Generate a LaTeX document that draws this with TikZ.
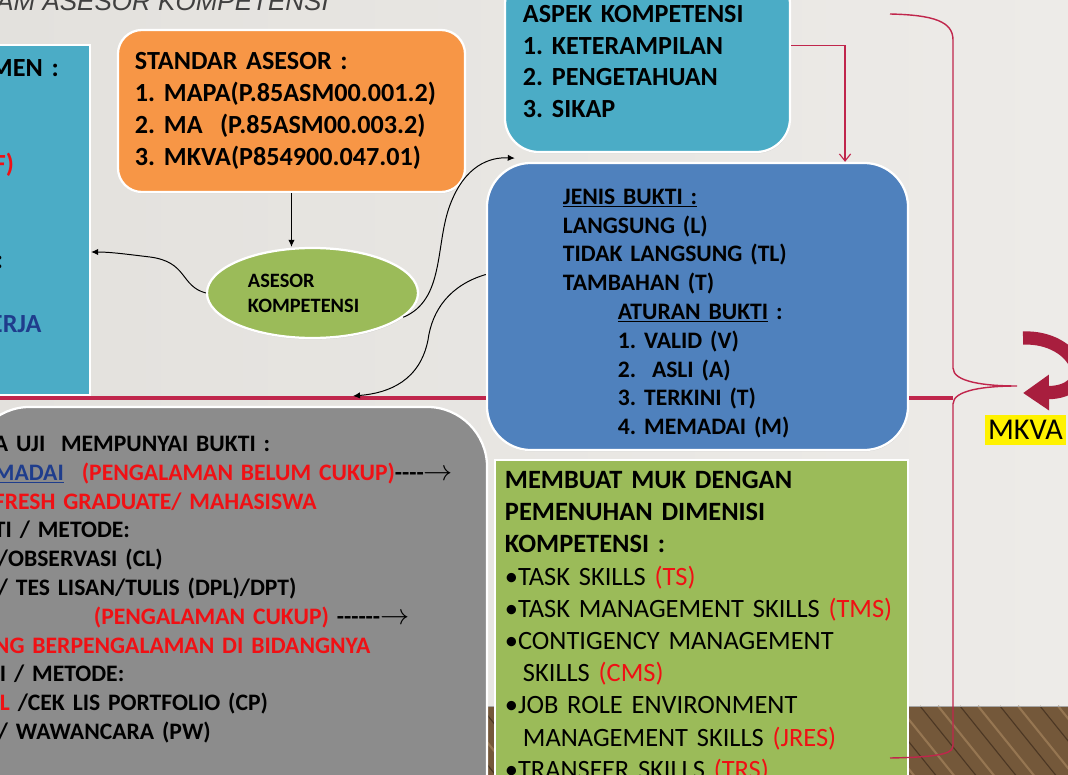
\documentclass[tikz,border=0pt]{standalone}
\usepackage{fontspec}
\setmainfont{Carlito}
\newfontfamily\titlefont{Liberation Sans}
\usetikzlibrary{shapes.geometric, arrows.meta, shadows}
\frenchspacing

\definecolor{wall}{RGB}{227,225,221}
\definecolor{wallhi}{RGB}{237,235,232}
\definecolor{floorwood}{RGB}{116,88,58}
\definecolor{plank}{RGB}{76,55,36}
\definecolor{planklight}{RGB}{150,118,82}
\definecolor{titlegray}{RGB}{64,64,64}
\definecolor{tealbox}{RGB}{75,172,198}
\definecolor{orangebox}{RGB}{247,150,70}
\definecolor{bluebox}{RGB}{79,129,189}
\definecolor{greenbox}{RGB}{155,187,89}
\definecolor{graybox}{RGB}{140,140,140}
\definecolor{crimson}{RGB}{192,38,76}
\definecolor{darkcrimson}{RGB}{168,30,62}
\definecolor{navytext}{RGB}{31,61,140}
\definecolor{redtext}{RGB}{240,16,20}

\newcommand{\longarrow}[1]{#1{\fontsize{22}{22}\selectfont$\rightarrow$}}

\begin{document}
\begin{tikzpicture}[x=0.025cm, y=-0.025cm, >={Latex[length=5pt,width=4.5pt]},
    panel/.style={draw=white, line width=1.6pt,
      drop shadow={opacity=0.2, shadow xshift=0.4pt, shadow yshift=-1pt}},
    bigfont/.style={font=\fontsize{18.6}{22.7}\selectfont\bfseries, align=left},
    midfont/.style={font=\fontsize{16.8}{20.5}\selectfont\bfseries, align=left},
    link/.style={->, line width=0.7pt},
    redlink/.style={crimson, line width=0.8pt, -{Straight Barb[length=5pt,width=8pt]}},
    redline/.style={crimson, line width=2.6pt},
    bracket/.style={crimson, line width=1pt},
    turn/.style={darkcrimson, line width=0.33cm, -{Triangle[length=0.65cm,width=0.85cm]}}]

\useasboundingbox (0,0) rectangle (1068,775);
\clip (0,0) rectangle (1068,775);

% wall and wooden floor
\fill[left color=wall, right color=wallhi] (0,0) rectangle (1068,706);
\fill[floorwood] (0,706) rectangle (1068,775);
\foreach \k in {0,...,28}{
  \draw[plank, line width=0.8pt] ({\k*40-40},706) -- ++(58,72);
  \draw[planklight, line width=1.5pt] ({\k*40-22},706) -- ++(58,72);
}
\draw[gray!70, line width=0.6pt] (0,706) -- (1068,706);

% title, cut by the top edge
\node[anchor=base west, inner sep=0pt, text=titlegray,
  font=\titlefont\itshape\fontsize{18.5}{22}\selectfont] (judul) at (-4,11) {AM ASESOR KOMPETENSI};

\node[panel, fill=tealbox, bigfont, minimum width=3cm, minimum height=8.75cm,
  text width=2cm] (elemen) at (30,220)
  {MEN :\\ \mbox{}\\ \mbox{}\\ \hspace*{0.1cm}{\color{redtext}F)}\\ \mbox{}\\ \mbox{}\\
   \hspace*{0.15cm}:\\ \mbox{}\\ {\color{navytext}ERJA}\\ \rule[-0.4cm]{0pt}{0pt}};

\node[panel, fill=orangebox, bigfont, rounded corners=0.6cm, minimum width=8.675cm,
  minimum height=4.05cm, text width=7.825cm] (standar) at (291.5,111)
  {STANDAR ASESOR :\\ 1. MAPA(P.85ASM00.001.2)\\ 2. MA\ \ (P.85ASM00.003.2)\\
   3. MKVA(P854900.047.01)};

\node[panel, fill=tealbox, bigfont, rounded corners=0.85cm, minimum width=7.125cm,
  minimum height=4.525cm, text width=6.225cm] (aspek) at (647.5,61.5)
  {ASPEK KOMPETENSI\\ 1. KETERAMPILAN\\ 2. PENGETAHUAN\\ 3. SIKAP};

\node[panel, ellipse, fill=greenbox, font=\fontsize{14.5}{17.7}\selectfont\bfseries,
  align=left, text width=3.225cm, inner sep=0pt, minimum width=5.275cm,
  minimum height=2.25cm] (asesor) at (312.5,293) {ASESOR\\ KOMPETENSI};

\node[panel, fill=bluebox, midfont, rounded corners=1.1cm, minimum width=10.525cm,
  minimum height=7.175cm, text width=6.725cm] (jenis) at (697.5,306.5)
  {\rule{0pt}{0.74cm}\underline{JENIS BUKTI :}\\ LANGSUNG (L)\\ TIDAK LANGSUNG (TL)\\ TAMBAHAN (T)\\
   \hspace*{1.375cm}\underline{ATURAN BUKTI} :\\
   \hspace*{1.375cm}1. VALID (V)\\
   \hspace*{1.375cm}2.\ \ ASLI (A)\\
   \hspace*{1.375cm}3. TERKINI (T)\\
   \hspace*{1.375cm}4. MEMADAI (M)};

\node[panel, fill=graybox, midfont, rounded corners=1.5cm, minimum width=12.925cm,
  minimum height=10.7cm, text width=11.725cm] (bukti) at (228.5,621)
  {A UJI\ \ MEMPUNYAI BUKTI :\\
   {\color{navytext}\underline{MADAI}}\hspace*{0.45cm}{\color{redtext}(PENGALAMAN BELUM CUKUP)}\longarrow{{-}{-}{-}{-}}\\
   {\color{redtext}FRESH GRADUATE/ MAHASISWA}\\
   TI / METODE:\\
   \hspace*{0.1cm}/OBSERVASI (CL)\\
   \hspace*{0.1cm}/ TES LISAN/TULIS (DPL)/DPT)\\
   \hspace*{2.5cm}{\color{redtext}(PENGALAMAN CUKUP)} \longarrow{{-}{-}{-}{-}{-}{-}}\\
   {\color{redtext}NG BERPENGALAMAN DI BIDANGNYA}\\
   \hspace*{0.15cm}I / METODE:\\
   \hspace*{0.15cm}{\color{redtext}L} /CEK LIS PORTFOLIO (CP)\\
   \hspace*{0.1cm}/ WAWANCARA (PW)\\
   \strut\\ \strut};

\node[panel, fill=greenbox, font=\fontsize{18.8}{22.9}\selectfont, align=left,
  minimum width=10.325cm, minimum height=8.325cm, text width=9.825cm] (muk) at (701.5,626.5)
  {\textbf{MEMBUAT MUK DENGAN}\\ \textbf{PEMENUHAN DIMENISI}\\ \textbf{KOMPETENSI :}\\
   •TASK SKILLS {\color{redtext}(TS)}\\
   •TASK MANAGEMENT SKILLS {\color{redtext}(TMS)}\\
   •CONTIGENCY MANAGEMENT\\
   \hspace*{0.45cm}SKILLS {\color{redtext}(CMS)}\\
   •JOB ROLE ENVIRONMENT\\
   \hspace*{0.45cm}MANAGEMENT SKILLS {\color{redtext}(JRES)}\\
   •TRANSFER SKILLS {\color{redtext}(TRS)}};

\node[fill=yellow, anchor=west, inner xsep=2pt, inner ysep=0pt, minimum height=0.75cm,
  font=\fontsize{21.5}{26}\selectfont] (mkva) at (985,430) {MKVA};

% red lines and the bracket
\coordinate (lineL) at (-5,398);
\coordinate (braceM) at (953,398);
\coordinate (tip) at (1017,386);
\coordinate (hit) at (353,396);
\draw[redline] (lineL) -- (lineL -| jenis.west);
\draw[redline] (jenis.east |- braceM) -- (braceM);
\draw[bracket] (890,14) .. controls (935,15) and (953,22) .. (953,40) -- (953,368)
  .. controls (953,382) and (985,386) .. (tip)
  .. controls (985,386) and (953,390) .. (953,404) -- (953,745)
  .. controls (953,752) and (948,757) .. (890,758);
\draw[redlink] ([yshift=0.41cm]aspek.east) -| ([xshift=3.6875cm]jenis.north);
\draw[turn] (1023,338) .. controls (1078,336) and (1100,392) .. (1023,393);

% connectors
\draw[link] (standar.south) -- (standar.south |- asesor.north);
\draw[link] (asesor.west) .. controls (180,286) and (188,262) .. (150,257)
  .. controls (125,254) and (110,252) .. ([yshift=-0.8cm]elemen.east);
\draw[link] (asesor.-15) .. controls (445,300) and (435,245) .. (450,205)
  .. controls (465,165) and (490,157) .. ([shift={(0.275cm,-0.125cm)}]aspek.south west);
\draw[link] ([yshift=0.8cm]jenis.west) .. controls (450,285) and (432,310) .. (428,340)
  .. controls (420,380) and (390,393) .. (hit);

\end{tikzpicture}
\end{document}
